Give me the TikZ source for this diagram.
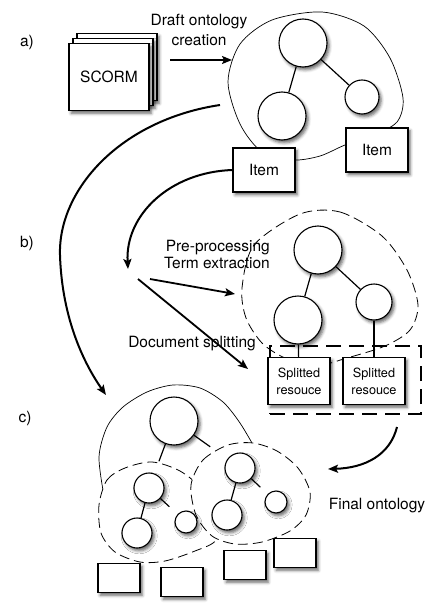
\documentclass[tikz,border=0pt]{standalone}
\usepackage{fontspec}
\setmainfont{TeX Gyre Heros}
\usetikzlibrary{arrows.meta,shadows.blur}

\begin{document}
\begin{tikzpicture}[x=1pt,y=-1pt,
        every node/.style={font=\fontsize{15.5}{17}\selectfont},
        shade/.style={blur shadow={shadow xshift=2.2pt,shadow yshift=-2.8pt,shadow blur radius=3pt,shadow opacity=60}},
        onto/.style={circle,draw,line width=1.1pt,fill=white,inner sep=0pt,shade},
        leaf/.style={rectangle,draw,line width=1.1pt,fill=white,inner sep=0pt,shade,minimum width=62pt,minimum height=44pt},
        page/.style={rectangle,draw,line width=1.1pt,fill=white,inner sep=0pt,shade,minimum width=80pt,minimum height=67pt},
        tiny/.style={rectangle,draw,line width=1.1pt,fill=white,inner sep=0pt,shade,minimum width=42pt,minimum height=29pt},
        link/.style={line width=1.2pt},
        hull/.style={line width=0.7pt},
        dhull/.style={line width=0.8pt,dash pattern=on 10pt off 5pt},
        arr/.style={-{Stealth[length=10pt,width=8pt,inset=2pt]},line width=1.8pt}]
    \useasboundingbox (0,0) rectangle (427,607);

    % a) draft ontology
    \node (la) at (27,42) {a)};
    \node[page] (s3) at (117,67) {};
    \node[page] (s2) at (113,72) {};
    \node[page] (s1) at (109,77) {SCORM};
    \node[align=center,font=\fontsize{15.5}{20}\selectfont] (draft) at (199,30) {Draft ontology\\creation};
    \coordinate (d0) at (170,60);
    \coordinate (d1) at (232,60);
    \draw[arr] (d0) -- (d1);

    \draw[hull] plot[smooth cycle] coordinates {(262,152) (240,124) (228,82) (240,44) (272,20) (322,12) (364,26) (390,58) (403,98) (397,122) (372,136) (345,145) (320,156) (293,160)};
    \node[onto,minimum size=48pt] (a1) at (303,43) {};
    \node[onto,minimum size=48pt] (a2) at (282,116) {};
    \node[onto,minimum size=34pt] (a3) at (362,97) {};
    \draw[link] (a1) -- (a2);
    \draw[link] (a1) -- (a3);
    \node[leaf] (i1) at (264,170) {Item};
    \node[leaf] (i2) at (377,150) {Item};

    % curves down to b) and c)
    \coordinate (c0) at (220,105);
    \coordinate (cm) at (60,255);
    \coordinate (cz) at (106,395);
    \draw[arr,line width=2pt] (c0) .. controls (120,120) and (58,190) .. (cm) .. controls (62,320) and (85,365) .. (cz);
    \coordinate (b0) at (128,269);
    \draw[arr,line width=2pt] (i1.west) .. controls (170,172) and (125,215) .. (b0);

    % b) splitting
    \node (lb) at (27,243) {b)};
    \node[align=right] (pre) at (217,254) {Pre-processing\\Term extraction};
    \node (split) at (192,344) {Document splitting};
    \coordinate (p0) at (150,279);
    \coordinate (p1) at (235,294);
    \coordinate (q0) at (138,279);
    \coordinate (q1) at (248,369);
    \draw[arr] (p0) -- (p1);
    \draw[arr] (q0) -- (q1);

    \draw[dhull] plot[smooth cycle] coordinates {(300,214) (340,212) (382,236) (407,270) (418,305) (410,330) (385,346) (347,358) (315,366) (285,358) (262,343) (246,318) (242,288) (254,245)};
    \node[draw,line width=1.2pt,dash pattern=on 15pt off 8pt,minimum width=151pt,minimum height=68pt,inner sep=0pt] (grp) at (345.5,380) {};
    \node[onto,minimum size=48pt] (b1) at (318,250) {};
    \node[onto,minimum size=48pt] (b2) at (298,320) {};
    \node[onto,minimum size=36pt] (b3) at (374,302) {};
    \node[leaf,minimum height=47pt,align=center,font=\fontsize{12.7}{17}\selectfont] (r1) at (299,381) {Splitted\\resouce};
    \node[leaf,minimum height=47pt,align=center,font=\fontsize{12.7}{17}\selectfont] (r2) at (374,381) {Splitted\\resouce};
    \draw[link] (b1) -- (b2);
    \draw[link] (b1) -- (b3);
    \draw[link] (b2) -- (r1);
    \draw[link] (b3) -- (r2);

    % c) final ontology
    \node (lc) at (25,418) {c)};
    \node (final) at (377,506) {Final ontology};
    \coordinate (f0) at (397,427);
    \coordinate (f1) at (328,469);
    \draw[arr,line width=2pt] (f0) .. controls (390,455) and (365,468) .. (f1);

    \draw[hull] plot[smooth] coordinates {(104,496) (99,457) (107,427) (123,407) (147,392) (173,385) (200,388) (223,402) (240,423) (256,450)};
    \draw[dhull,fill=white] plot[smooth cycle] coordinates {(99,505) (107,480) (125,468) (152,462) (180,471) (203,490) (216,515) (216,540) (195,551) (165,561) (140,562) (115,552) (101,533)};
    \draw[dhull,fill=white] plot[smooth cycle] coordinates {(191,485) (203,460) (228,445) (253,443) (277,451) (298,468) (310,492) (306,515) (290,531) (262,542) (235,544) (212,536) (196,515)};
    \node[onto,minimum size=48pt] (c1) at (174,421) {};
    \node[onto,minimum size=30pt] (c2) at (149,488) {};% left group
    \node[onto,minimum size=30pt] (c4) at (137,533) {};
    \node[onto,minimum size=22pt] (c5) at (186,522) {};
    \node[onto,minimum size=30pt] (c3) at (240,468) {};% right group
    \node[onto,minimum size=30pt] (c6) at (227,515) {};
    \node[onto,minimum size=22pt] (c7) at (276,502) {};
    \draw[link,shorten >=13pt] (c1) -- (c2);
    \draw[link,shorten >=21pt] (c1) -- (c3);
    \draw[link] (c2) -- (c4);
    \draw[link,shorten >=11pt] (c2) -- (c5);
    \draw[link] (c3) -- (c6);
    \draw[link,shorten >=10pt] (c3) -- (c7);

    \node[tiny] (t1) at (119,578) {};
    \node[tiny] (t2) at (182,582) {};
    \node[tiny] (t3) at (245,565) {};
    \node[tiny] (t4) at (295,553) {};
\end{tikzpicture}
\end{document}
